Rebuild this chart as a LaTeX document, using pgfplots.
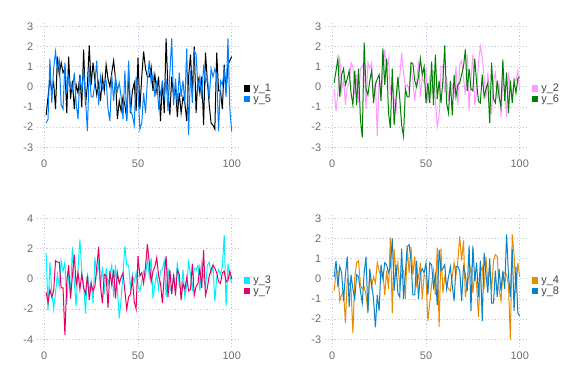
\documentclass[border=0pt]{standalone}
\usepackage{pgfplots}
\pgfplotsset{compat=1.18}
\usepackage{pgfplotstable}
\usepackage{fontspec}
\setmainfont{Liberation Sans}
\definecolor{tickc}{RGB}{110,105,120}
\definecolor{gridc}{RGB}{200,200,222}
\definecolor{cA}{RGB}{0,0,0}
\definecolor{cE}{RGB}{0,128,255}
\definecolor{cB}{RGB}{255,153,255}
\definecolor{cF}{RGB}{0,128,0}
\definecolor{cC}{RGB}{0,238,255}
\definecolor{cG}{RGB}{230,0,100}
\definecolor{cD}{RGB}{235,140,0}
\definecolor{cH}{RGB}{10,130,200}

\pgfplotstableread{
a b
-1.4 -1.8
-0.5 -1.6
0.4 1.4
-0.2 -0.8
0.2 0.9
-1.1 1.75
1.5 0.8
0.6 1.3
1.2 -0.9
0.7 -1.1
0.9 1.2
-1.3 -0.3
1.5 0.5
-0.6 0.1
0.3 -0.2
-1.1 0.7
0.1 -0.8
-0.3 -1.6
0.6 0.6
-1.0 -0.3
1.85 0.9
-0.9 -0.6
0.1 -2.2
2.05 1.0
0.1 -0.5
1.2 -0.5
0.3 0.2
-0.4 1.3
0.2 -0.9
-0.7 0.5
0.5 -0.1
-0.2 0.2
1.1 0.3
0.4 -1.1
0.0 -1.7
0.7 0.6
1.3 -0.7
0.4 0.5
-1.6 -0.2
-0.7 0.2
-1.2 -0.5
-0.5 -1.6
-0.9 0.8
-1.6 -1.7
0.7 1.3
-1.3 -1.2
-0.2 -1.4
0.2 -1.9
-1.2 0.5
1.45 -0.2
-1.1 -2.1
0.5 -1.8
1.75 -0.3
0.9 -1.3
0.5 0.3
0.5 1.3
1.0 0.2
-0.2 0.6
0.6 -0.5
-0.2 0.3
0.5 -1.0
-1.7 -0.3
0.3 0.2
-1.3 -0.5
2.4 0.4
-0.2 -1.2
-1.4 0.7
0.5 2.4
-0.5 -0.9
0.0 0.4
-1.5 -0.9
-0.3 0.7
-1.3 -0.5
-0.5 0.3
-0.8 -0.8
-1.7 1.9
0.5 -2.4
1.6 0.8
-0.3 -0.8
2.0 1.8
-1.3 1.6
0.5 -0.1
-0.3 0.5
0.5 -0.6
-1.9 1.1
1.7 0.2
0.3 0.5
-0.9 -0.6
-1.8 0.9
-1.9 0.5
-2.1 0.9
1.7 0.6
-0.2 -2.2
-0.2 0.3
-1.1 0.1
1.1 0.8
-0.3 -0.5
1.1 2.4
1.3 -1.1
1.5 -2.2
}\tA

\pgfplotstableread{
a b
-0.1 0.2
-1.2 0.8
-0.3 1.4
1.5 -0.5
-0.2 0.6
0.4 0.9
-0.9 0.1
0.0 0.4
0.2 0.8
1.2 -0.3
1.0 -0.9
-0.4 0.8
0.6 -0.9
-0.8 0.9
0.9 -1.6
1.0 -2.5
1.3 2.2
-1.1 -0.1
1.2 -0.4
0.9 0.3
1.2 0.8
-0.6 -0.8
0.3 0.1
-2.45 0.4
0.4 0.6
-0.2 -0.7
0.5 1.9
1.85 0.1
0.9 1.4
1.4 -1.3
-0.4 -2.05
0.3 0.9
-0.6 -1.9
-1.3 -0.6
0.2 0.5
0.5 -0.6
1.7 -1.9
0.7 -2.45
0.0 -0.1
0.1 -0.5
-0.2 -0.5
1.0 1.2
0.3 1.15
-0.7 0.3
0.2 0.0
1.3 0.5
-0.5 1.4
0.5 0.6
0.2 1.0
0.9 -0.8
-0.8 0.2
0.4 -0.8
-0.3 1.25
0.8 -0.9
-0.6 1.6
-2.0 -0.6
-1.4 0.3
1.0 -0.8
1.0 0.3
-0.3 2.05
0.5 -0.8
-0.7 -1.3
0.2 0.3
0.1 -1.4
-0.4 0.6
1.0 -0.5
-0.9 0.1
1.1 0.2
1.3 0.6
0.4 1.0
-0.4 1.85
1.6 -0.2
-1.2 0.9
0.4 -0.1
1.6 -0.2
-0.9 1.4
-0.3 0.2
1.2 -0.7
2.0 -0.8
1.5 0.6
0.5 -0.5
-0.6 -0.1
0.7 0.2
-0.3 -1.8
-1.35 1.2
0.3 -0.6
0.7 -0.8
-0.6 0.3
0.2 -0.5
-1.5 -1.0
0.4 1.35
-0.2 -0.7
-1.5 0.7
0.6 -1.3
0.1 0.3
-0.6 -0.8
0.4 0.3
0.3 -0.3
0.8 0.4
-0.2 0.5
}\tB

\pgfplotstableread{
a b
1.7 -0.9
-2.1 -1.6
1.1 -0.7
-0.8 -1.2
-2.0 -0.8
-0.9 1.2
0.3 1.1
-0.5 1.1
1.2 -0.6
0.5 -0.6
1.1 -3.7
-1.7 -0.2
0.4 0.9
-1.0 -1.3
2.1 0.2
-0.2 1.6
-1.8 -0.4
0.7 0.4
2.6 -0.7
0.5 0.3
-0.4 -0.6
-2.3 -1.0
0.4 0.2
-0.8 -1.4
-0.2 -0.3
-1.6 -0.8
1.4 -0.5
0.2 0.8
1.1 2.1
-0.6 -0.5
0.8 -1.6
-1.0 0.3
0.7 0.2
-0.4 -1.9
0.3 0.5
0.9 -0.4
-1.2 0.6
0.9 -1.3
-0.7 0.4
-2.6 -0.3
-1.3 0.1
0.3 0.4
2.15 -0.8
0.9 -2.0
0.9 -1.2
-0.6 -1.0
0.3 0.0
-0.2 -1.5
0.4 -2.0
-0.5 1.5
-0.8 0.2
-0.2 0.4
0.5 -0.3
0.2 0.8
1.3 2.3
0.2 1.1
1.4 -0.2
-1.3 0.5
-0.4 0.8
0.3 1.4
-0.7 0.2
0.5 -0.3
0.6 -1.6
1.2 0.2
-1.2 1.5
0.7 -1.2
-0.6 0.6
-0.9 -1.0
0.2 0.3
-0.8 -1.1
1.1 0.6
-0.4 0.3
-0.8 -1.4
0.6 -0.3
-1.2 -0.7
-0.4 0.1
1.1 -0.8
0.3 -0.7
-0.8 1.0
0.7 -1.1
0.6 -0.5
0.9 -0.3
-0.8 0.7
1.0 -0.6
0.1 1.9
-0.6 -1.1
0.9 -0.6
1.1 0.2
0.3 0.6
0.9 0.9
-1.5 0.7
0.1 0.4
0.6 -0.2
0.3 -0.3
0.8 0.4
2.9 0.5
-1.8 -0.2
1.0 -0.1
0.2 0.5
-0.3 0.0
}\tC

\pgfplotstableread{
a b
-0.6 0.1
0.3 0.9
0.4 -0.4
-1.1 0.6
-0.8 0.3
-0.6 -1.1
-2.2 0.2
0.0 1.1
-0.2 -1.4
-0.5 0.2
-2.7 -0.5
0.1 -1.0
0.8 0.2
0.9 0.1
-0.3 -0.6
-0.5 -1.2
-0.4 0.3
-0.8 1.1
-1.6 -1.7
0.2 0.5
-0.4 -0.3
0.1 -1.0
-0.2 -2.4
0.8 -0.8
0.4 -1.6
0.1 0.7
0.3 0.0
-0.8 0.8
0.4 0.7
-0.5 0.3
2.05 0.6
-1.7 2.0
1.5 -0.6
0.1 0.7
0.8 -0.7
-0.4 -0.9
0.2 1.5
0.4 -1.0
-1.0 0.3
1.55 1.6
0.3 1.7
1.6 0.9
0.2 -0.8
1.1 -0.8
-0.3 0.9
0.1 -1.0
0.8 0.3
-1.0 0.5
0.2 0.3
0.1 0.8
-2.1 -0.8
-1.2 0.8
-0.3 0.7
0.4 -0.4
-0.8 0.2
1.55 -1.3
-2.4 1.45
1.5 0.4
-0.7 0.5
0.1 0.7
-0.3 -0.5
-0.5 0.1
-0.6 0.6
0.1 -0.3
0.8 -1.1
0.2 0.6
0.9 0.6
2.1 0.4
0.9 -1.1
1.9 0.6
-0.9 0.2
-0.3 -0.6
0.2 1.65
0.6 -1.6
-0.7 1.65
0.3 -0.1
-0.3 0.8
-1.9 -0.9
0.3 0.9
0.6 -2.1
-0.5 1.3
1.1 0.2
-0.3 -0.7
0.6 1.0
-0.6 -1.2
0.9 -1.2
1.2 0.4
1.1 -0.9
-0.5 0.5
-1.1 -0.6
0.3 0.4
0.3 -0.5
0.2 2.2
-0.3 0.2
-3.0 -0.9
2.2 1.5
1.2 -1.6
-0.7 0.6
0.8 -1.7
0.1 -1.85
}\tD

\pgfplotsset{
  panel/.style={
    scale only axis, width=202.6bp, height=133.3bp,
    anchor=south west,
    xmin=-4.05, xmax=104.05, ymin=-3.38, ymax=3.23,
    axis line style={draw=none},
    major tick length=0pt,
    tick style={draw=none},
    grid=major,
    grid style={dash pattern=on 1.2bp off 2bp, color=gridc, line width=0.7bp},
    xtick={0,50,100}, ytick={-3,-2,-1,0,1,2,3},
    /pgf/number format/assume math mode=true,
    tick label style={font=\fontsize{11}{13}\selectfont, text=tickc},
    xticklabel style={yshift=-1bp},
    yticklabel style={xshift=0bp},
    legend style={draw=none, fill=none, at={(axis description cs:1.02,0.46)}, anchor=west,
      inner sep=0pt, font=\fontsize{11}{13}\selectfont, text=black!75,
      row sep=0bp, nodes={inner sep=0.8bp},
      /tikz/every odd column/.append style={column sep=2.2bp}},
    legend cell align=left,
    legend image code/.code={\fill[##1, draw=none] (0bp,-3.4bp) rectangle (6.8bp,3.4bp);},
    every axis plot/.append style={line width=1bp, mark=none},
    clip=true,
  }
}

\begin{document}
\begin{tikzpicture}
\useasboundingbox (0,0) rectangle (576bp,384bp);
\begin{axis}[panel, at={(36.7bp,229bp)}]
\addplot[cA] table[x expr=\coordindex+1, y=a] {\tA};
\addplot[cE] table[x expr=\coordindex+1, y=b] {\tA};
\legend{y\_1, y\_5}
\end{axis}
\begin{axis}[panel, at={(324.7bp,229bp)}]
\addplot[cB] table[x expr=\coordindex+1, y=a] {\tB};
\addplot[cF] table[x expr=\coordindex+1, y=b] {\tB};
\legend{y\_2, y\_6}
\end{axis}
\begin{axis}[panel, at={(36.7bp,37bp)}, ymin=-4.5, ymax=4.3, ytick={-4,-2,0,2,4}]
\addplot[cC] table[x expr=\coordindex+1, y=a] {\tC};
\addplot[cG] table[x expr=\coordindex+1, y=b] {\tC};
\legend{y\_3, y\_7}
\end{axis}
\begin{axis}[panel, at={(324.7bp,37bp)}]
\addplot[cD] table[x expr=\coordindex+1, y=a] {\tD};
\addplot[cH] table[x expr=\coordindex+1, y=b] {\tD};
\legend{y\_4, y\_8}
\end{axis}
\end{tikzpicture}
\end{document}
